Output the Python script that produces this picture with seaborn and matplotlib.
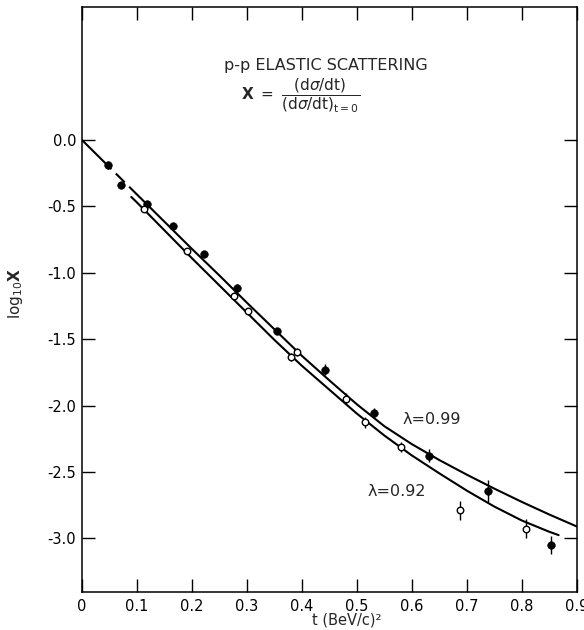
"""p-p elastic scattering: log10 of normalised dsigma/dt against t."""

import matplotlib.pyplot as plt
import numpy as np
import pandas as pd
import seaborn as sns

sns.set_theme(style="ticks")
plt.rcParams["font.family"] = ["DejaVu Sans"]

# measured points, filled circles
t_filled = [0.048, 0.0715, 0.119, 0.166, 0.223, 0.282, 0.355, 0.4415, 0.531, 0.632, 0.738, 0.8535]
logx_filled = [-0.193, -0.343, -0.480, -0.650, -0.860, -1.118, -1.438, -1.731, -2.056, -2.376, -2.644, -3.051]
err_filled = [0.03, 0.02, 0.02, 0.02, 0.02, 0.03, 0.02, 0.04, 0.04, 0.05, 0.08, 0.07]

# measured points, open circles
t_open = [0.114, 0.191, 0.276, 0.303, 0.380, 0.391, 0.481, 0.5156, 0.5805, 0.6885, 0.808]
logx_open = [-0.518, -0.838, -1.176, -1.288, -1.635, -1.598, -1.948, -2.126, -2.311, -2.788, -2.926]
err_open = [0.02, 0.02, 0.03, 0.02, 0.03, 0.03, 0.04, 0.04, 0.04, 0.07, 0.07]

# fitted curves
t_curve_099 = [0.0, 0.05, 0.1, 0.15, 0.2, 0.25, 0.3, 0.35, 0.4, 0.45, 0.5,
               0.55, 0.6, 0.65, 0.7, 0.75, 0.8, 0.85, 0.9]
logx_curve_099 = [0.0, -0.205, -0.41, -0.615, -0.82, -1.02, -1.225, -1.425, -1.625, -1.81, -1.99,
                  -2.155, -2.29, -2.41, -2.52, -2.625, -2.725, -2.82, -2.91]
t_curve_092 = [0.09, 0.1, 0.15, 0.2, 0.25, 0.3, 0.35, 0.4, 0.45, 0.5,
               0.55, 0.6, 0.65, 0.7, 0.75, 0.8, 0.85, 0.867]
logx_curve_092 = [-0.43, -0.47, -0.68, -0.89, -1.095, -1.3, -1.505, -1.70, -1.88, -2.06,
                  -2.225, -2.375, -2.51, -2.64, -2.76, -2.865, -2.95, -2.975]

xticks = [0.0, 0.1, 0.2, 0.3, 0.4, 0.5, 0.6, 0.7, 0.8, 0.9]
xtick_labels = ["0", "0.1", "0.2", "0.3", "0.4", "0.5", "0.6", "0.7", "0.8", "0.9"]
yticks = [0.0, -0.5, -1.0, -1.5, -2.0, -2.5, -3.0]

filled = pd.DataFrame({"t": t_filled, "logx": logx_filled, "err": err_filled})
opened = pd.DataFrame({"t": t_open, "logx": logx_open, "err": err_open})
c99 = pd.DataFrame({"t": t_curve_099, "logx": logx_curve_099})
c92 = pd.DataFrame({"t": t_curve_092, "logx": logx_curve_092})

fig = plt.figure(figsize=(5.84, 6.3), dpi=100)
ax = fig.add_axes([0.140, 0.061, 0.8476, 0.928])

# lambda = 0.99: dashed extrapolation towards t = 0, then solid
c99_dash = c99[c99["t"] <= 0.1]
c99_solid = c99[c99["t"] >= 0.1]
ax.plot(c99_dash["t"], c99_dash["logx"], color="black", lw=1.5, linestyle=(0, (20, 3, 6, 3)))
sns.lineplot(data=c99_solid, x="t", y="logx", color="black", lw=1.5, sort=False, ax=ax)
sns.lineplot(data=c92, x="t", y="logx", color="black", lw=1.5, sort=False, ax=ax)

ax.errorbar(filled["t"], filled["logx"], yerr=filled["err"], fmt="none", ecolor="black", elinewidth=1, capsize=0)
ax.errorbar(opened["t"], opened["logx"], yerr=opened["err"], fmt="none", ecolor="black", elinewidth=1, capsize=0)
sns.scatterplot(data=filled, x="t", y="logx", color="black", edgecolor="black", s=30, zorder=4, ax=ax)
sns.scatterplot(data=opened, x="t", y="logx", color="white", edgecolor="black", linewidth=1, s=22, zorder=4, ax=ax)

ax.set_xlim(0, 0.9)
ax.set_ylim(-3.4, 1.0)
ax.set_xticks(xticks)
ax.set_xticklabels(xtick_labels)
ax.set_yticks(yticks)
ax.yaxis.set_major_formatter(plt.FormatStrFormatter("%.1f"))
ax.tick_params(direction="in", top=True, right=True, length=9.5, width=1,
               labelsize=10.5, colors="black")
ax.tick_params(axis="x", pad=5)
ax.tick_params(axis="y", pad=4)
for sp in ax.spines.values():
    sp.set_linewidth(1.1)
    sp.set_color("black")

ax.set_xlabel("t (BeV/c)²", fontsize=10.5)
ax.xaxis.set_label_coords(0.535, -0.036)
ax.set_ylabel(r"log$_{10}\mathbf{X}$", fontsize=11)
ax.yaxis.set_label_coords(-0.115, 0.51)

ax.text(0.444, 0.56, "p-p ELASTIC SCATTERING", ha="center", va="center", fontsize=11.5)
ax.text(0.397, 0.33,
        r"$\mathbf{X}\ =\ \dfrac{(\mathrm{d}\sigma/\mathrm{dt})}{(\mathrm{d}\sigma/\mathrm{dt})_{\mathrm{t=0}}}$",
        ha="center", va="center", fontsize=11)
ax.text(0.637, -2.106, "λ=0.99", ha="center", va="center", fontsize=11.5)
ax.text(0.573, -2.644, "λ=0.92", ha="center", va="center", fontsize=11.5)

fig.savefig("out.png", dpi=100, facecolor="white")
